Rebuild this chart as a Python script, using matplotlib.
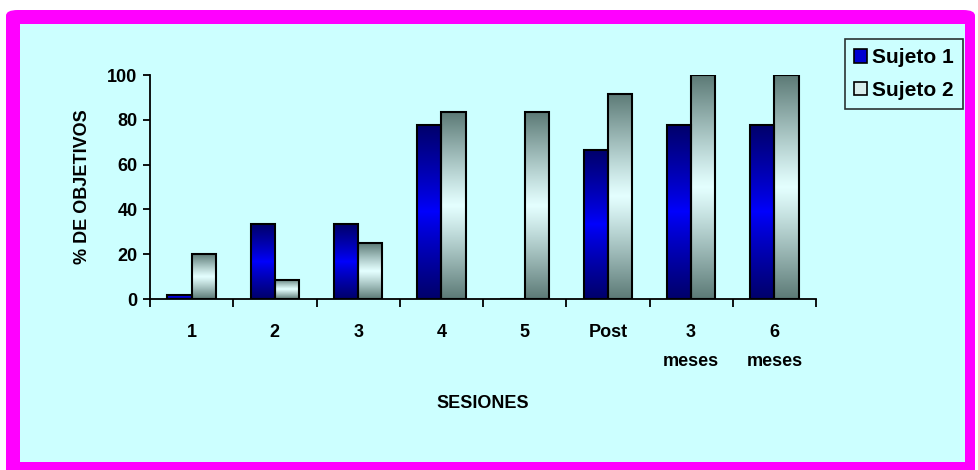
import numpy as np
import matplotlib
matplotlib.use("Agg")
import matplotlib.pyplot as plt
from matplotlib.patches import FancyBboxPatch, Rectangle, Patch

plt.rcParams['font.family'] = ['Liberation Sans', 'DejaVu Sans']
plt.rcParams['font.weight'] = 'bold'

# Data
sesiones = ["1", "2", "3", "4", "5", "Post", "3\nmeses", "6\nmeses"]
sujeto1 = [2, 33.3, 33.3, 77.8, 0, 66.7, 77.8, 77.8]
sujeto2 = [20, 8.7, 25, 83.3, 83.3, 91.7, 100, 100]
y_ticks = [0, 20, 40, 60, 80, 100]

BG = "#CCFFFF"
FRAME = "#FF00FF"
FS = 13

W, H = 979, 470
fig = plt.figure(figsize=(W / 100, H / 100), dpi=100)
fig.patch.set_facecolor("white")

# Magenta rounded frame with cyan panel
fig.patches.append(FancyBboxPatch((6 / W, -0.05), (975 - 6) / W, 1 - 10 / H + 0.05,
                                  boxstyle="round,pad=0,rounding_size=0.012",
                                  transform=fig.transFigure, facecolor=FRAME,
                                  edgecolor="none", zorder=-2))
fig.patches.append(Rectangle((20 / W, 1 - 462 / H), (965 - 20) / W, (462 - 24) / H,
                             transform=fig.transFigure, facecolor=BG,
                             edgecolor="none", zorder=-1))

ax = fig.add_axes([150 / W, 1 - 299 / H, 666 / W, 224 / H])
ax.set_facecolor("none")
ax.set_zorder(2)

x = np.arange(len(sesiones))
bw = 0.29


def gradient(end, mid, power, n=256):
    t = np.linspace(0, 1, n)
    s = np.abs(2 * t - 1) ** power
    end = np.array(matplotlib.colors.to_rgb(end))
    mid = np.array(matplotlib.colors.to_rgb(mid))
    cols = mid[None, :] * (1 - s[:, None]) + end[None, :] * s[:, None]
    return cols[:, None, :]


grad1 = gradient("#00006A", "#0000FF", 0.85)
grad2 = gradient("#5C7A76", "#E4FFFF", 1.1)

bars1 = ax.bar(x - bw / 2, sujeto1, width=bw, facecolor="none",
               edgecolor="black", linewidth=1.5, zorder=3)
bars2 = ax.bar(x + bw / 2, sujeto2, width=bw, facecolor="none",
               edgecolor="black", linewidth=1.5, zorder=3)

for bars, grad in ((bars1, grad1), (bars2, grad2)):
    for b in bars:
        h = b.get_height()
        if h <= 0:
            continue
        x0 = b.get_x()
        ax.imshow(grad, extent=(x0, x0 + b.get_width(), 0, h), origin="lower",
                  aspect="auto", interpolation="bilinear", zorder=2)

ax.set_xlim(-0.5, len(sesiones) - 0.5)
ax.set_ylim(0, 100)

for side in ("top", "right"):
    ax.spines[side].set_visible(False)
for side in ("left", "bottom"):
    ax.spines[side].set_linewidth(1.3)
    ax.spines[side].set_color("black")

ax.set_yticks(y_ticks)
ax.set_yticklabels([str(v) for v in y_ticks], fontsize=FS, fontweight="bold")
ax.tick_params(axis="y", direction="out", length=5, width=1.3, pad=4)

ax.set_xticks(np.arange(-0.5, len(sesiones), 1.0))
ax.set_xticklabels([])
ax.tick_params(axis="x", which="major", direction="out", length=6, width=1.3)
ax.set_xticks(x, minor=True)
ax.set_xticklabels(sesiones, minor=True, fontsize=FS, fontweight="bold",
                   va="top", linespacing=1.9)
ax.tick_params(axis="x", which="minor", length=0, pad=18)

ax.set_xlabel("SESIONES", fontsize=FS, fontweight="bold", labelpad=18)
ax.set_ylabel("% DE OBJETIVOS", fontsize=FS, fontweight="bold", labelpad=12)

handles = [Patch(facecolor="#0000D0", edgecolor="black", linewidth=1.2, label="Sujeto 1"),
           Patch(facecolor="#D8EEEC", edgecolor="black", linewidth=1.2, label="Sujeto 2")]
leg = fig.legend(handles=handles, loc="upper left",
                 bbox_to_anchor=(845 / W, 1 - 39 / H), bbox_transform=fig.transFigure,
                 borderaxespad=0, frameon=True, fancybox=False,
                 prop={"size": 15, "weight": "bold"},
                 handlelength=0.6, handleheight=0.6, handletextpad=0.25,
                 labelspacing=0.65, borderpad=0.45)
leg.get_frame().set_edgecolor("black")
leg.get_frame().set_linewidth(1.2)
leg.get_frame().set_facecolor(BG)
leg.set_zorder(5)

fig.savefig("out.png", dpi=100, facecolor=fig.get_facecolor())
